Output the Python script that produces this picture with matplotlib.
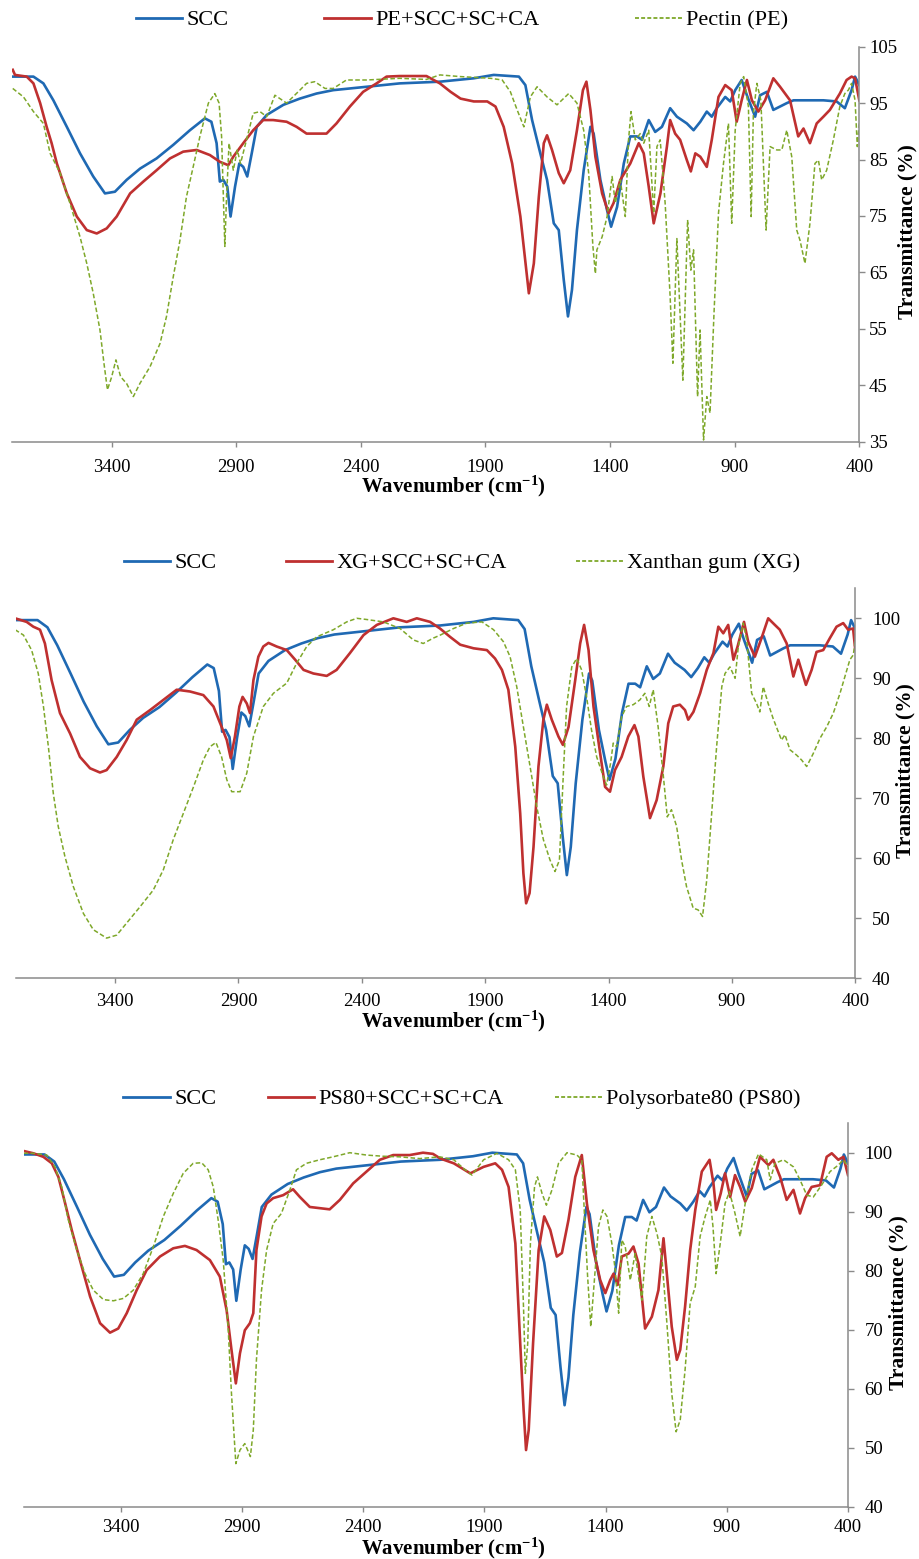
import matplotlib
matplotlib.use("Agg")
import matplotlib.pyplot as plt
from matplotlib.lines import Line2D

plt.rcParams['font.family'] = ['Liberation Serif', 'DejaVu Serif']
plt.rcParams['mathtext.fontset'] = 'custom'
plt.rcParams['mathtext.rm'] = 'Liberation Serif:bold'
plt.rcParams['mathtext.it'] = 'Liberation Serif:bold'
plt.rcParams['mathtext.bf'] = 'Liberation Serif:bold'
plt.rcParams['mathtext.default'] = 'rm'

# ---------------- data (wavenumber cm-1, transmittance %) ----------------
scc_wn = [3801, 3714, 3674, 3634, 3580, 3527, 3474, 3427, 3387, 3340, 3286, 3220, 3153, 3086, 3026,
          3000, 2979, 2966, 2952, 2936, 2923, 2905, 2888, 2872, 2856, 2838, 2818, 2778, 2711, 2645,
          2578, 2511, 2377, 2244, 2083, 1947, 1867, 1766, 1740, 1713, 1680, 1653, 1626, 1606, 1586,
          1569, 1553, 1533, 1506, 1479, 1466, 1439, 1412, 1396, 1372, 1345, 1319, 1292, 1272, 1245,
          1219, 1192, 1159, 1132, 1092, 1065, 1038, 1012, 992, 972, 938, 918, 898, 872, 851, 818,
          798, 771, 745, 718, 691, 664, 611, 544, 491, 458, 431, 417, 400]
scc_t = [99.7, 99.7, 98.5, 95.5, 90.8, 86.1, 82.0, 79.0, 79.3, 81.4, 83.4, 85.2, 87.6, 90.2, 92.3,
         91.7, 87.9, 81.1, 81.4, 80.2, 74.9, 80.2, 84.3, 83.7, 82.0, 86.1, 90.8, 92.9, 94.7, 95.8,
         96.7, 97.3, 97.9, 98.5, 98.8, 99.4, 100.0, 99.7, 98.2, 92.0, 86.1, 81.4, 73.7, 72.5, 63.7,
         57.2, 61.9, 72.5, 83.1, 90.8, 89.6, 81.4, 76.0, 73.1, 76.6, 84.3, 89.1, 89.1, 88.5, 92.0,
         89.9, 90.8, 94.1, 92.6, 91.4, 90.2, 91.7, 93.5, 92.6, 94.1, 96.1, 95.3, 97.3, 99.1, 96.4, 92.6,
         96.4, 97.0, 93.8, 94.4, 95.0, 95.5, 95.5, 95.5, 95.3, 94.1, 97.3, 99.7, 98.2]

pe_mix_wn = [3797, 3788, 3741, 3714, 3687, 3661, 3641, 3620, 3580, 3540, 3500, 3460, 3420, 3380, 3326,
             3273, 3220, 3166, 3113, 3059, 3006, 2966, 2932, 2912, 2872, 2832, 2792, 2752, 2698, 2658,
             2618, 2578, 2538, 2498, 2444, 2391, 2337, 2297, 2244, 2137, 2083, 2040, 2000, 1947, 1893,
             1860, 1827, 1793, 1760, 1726, 1706, 1686, 1666, 1653, 1633, 1606, 1586, 1560, 1533, 1509,
             1495, 1479, 1459, 1432, 1406, 1386, 1359, 1319, 1285, 1265, 1245, 1225, 1198, 1172, 1159,
             1139, 1119, 1092, 1076, 1058, 1038, 1012, 992, 965, 938, 912, 892, 872, 851, 831, 805, 778,
             745, 718, 678, 645, 624, 598, 571, 544, 518, 478, 451, 431, 417, 400]
pe_mix_t = [100.9, 100.0, 99.7, 98.5, 95.0, 90.8, 87.9, 84.3, 79.0, 74.9, 72.5, 71.9, 72.8, 74.9, 79.0,
            81.1, 83.1, 85.2, 86.4, 86.7, 85.8, 84.6, 84.0, 85.5, 87.9, 90.2, 92.0, 92.0, 91.7, 90.8,
            89.6, 89.6, 89.6, 91.4, 94.4, 97.0, 98.5, 99.7, 99.8, 99.8, 98.5, 97.0, 95.8, 95.3, 95.3,
            94.4, 90.8, 84.3, 74.9, 61.3, 66.6, 78.4, 87.9, 89.3, 86.7, 82.6, 80.8, 83.1, 90.2, 97.3,
            98.8, 93.8, 85.5, 79.0, 75.5, 77.3, 81.4, 84.3, 87.9, 86.1, 80.2, 73.7, 79.0, 87.3, 92.0,
            89.6, 88.5, 84.9, 82.9, 86.1, 85.5, 83.7, 88.5, 96.1, 98.2, 97.3, 91.7, 95.5, 99.1, 95.5, 93.5, 95.5,
            99.4, 97.9, 95.5, 89.1, 90.5, 87.9, 91.4, 92.6, 93.8, 96.7, 99.1, 99.7, 99.4, 95.5]

pectin_wn = [3797, 3754, 3714, 3674, 3647, 3607, 3567, 3527, 3500, 3474, 3447, 3431, 3417, 3400, 3383,
             3364, 3340, 3313, 3287, 3246, 3206, 3180, 3153, 3126, 3100, 3073, 3046, 3012, 2986, 2969,
             2959, 2946, 2939, 2929, 2912, 2896, 2883, 2859, 2832, 2805, 2778, 2745, 2698, 2645, 2618,
             2585, 2544, 2511, 2458, 2377, 2244, 2137, 2083, 2000, 1880, 1833, 1800, 1773, 1746, 1720,
             1693, 1653, 1613, 1566, 1533, 1506, 1486, 1469, 1459, 1453, 1432, 1412, 1392, 1379, 1359,
             1339, 1326, 1316, 1299, 1279, 1265, 1245, 1225, 1212, 1199, 1179, 1159, 1148, 1132, 1122,
             1108, 1089, 1076, 1065, 1049, 1039, 1025, 1012, 999, 983, 965, 945, 925, 912, 898, 878, 864,
             845, 834, 825, 811, 795, 774, 758, 731, 711, 691, 671, 651, 638, 618, 598, 578, 564, 551,
             531, 504, 478, 458, 444, 431, 417, 408, 400]
pectin_t = [97.6, 96.1, 93.5, 91.4, 86.1, 82.6, 77.2, 71.3, 66.6, 61.3, 54.8, 48.9, 44.2, 46.5, 49.5,
            46.5, 45.3, 43.0, 45.3, 48.3, 52.4, 57.2, 64.2, 70.7, 78.4, 83.7, 89.1, 95.0, 96.7, 95.0,
            89.1, 69.6, 78.4, 87.9, 83.1, 86.7, 84.3, 88.5, 93.2, 93.5, 92.6, 96.4, 95.0, 97.3, 98.5,
            98.8, 97.6, 97.6, 99.1, 99.1, 99.4, 99.2, 100.0, 99.7, 99.4, 99.1, 97.0, 93.8, 90.8, 96.1,
            97.9, 96.1, 94.7, 96.7, 95.0, 90.2, 82.6, 69.6, 64.8, 69.0, 71.3, 74.9, 82.0, 77.3, 81.4,
            74.9, 88.5, 93.5, 88.5, 89.6, 87.9, 90.2, 75.5, 87.3, 88.5, 77.2, 60.7, 48.9, 71.0, 60.7,
            45.9, 74.3, 65.4, 69.0, 43.0, 54.8, 35.3, 43.0, 40.1, 57.8, 75.5, 84.3, 91.4, 73.7, 90.2, 98.5, 99.7,
            94.4, 74.9, 93.2, 98.5, 95.5, 72.5, 87.3, 86.7, 86.7, 90.2, 85.5, 72.5, 70.7, 66.6, 73.7, 84.3, 84.9, 81.4,
            83.1, 88.5, 94.4, 96.7, 97.3, 98.5, 95.5, 87.3, 91.4]

xg_mix_wn = [3805, 3758, 3731, 3704, 3684, 3657, 3623, 3582, 3542, 3501, 3461, 3434, 3393, 3353, 3312,
             3258, 3204, 3150, 3096, 3042, 3001, 2968, 2947, 2931, 2914, 2896, 2883, 2866, 2853, 2839,
             2819, 2799, 2778, 2745, 2704, 2670, 2636, 2596, 2542, 2502, 2448, 2393, 2339, 2272, 2218,
             2177, 2123, 2083, 2042, 2001, 1947, 1893, 1860, 1832, 1806, 1778, 1758, 1745, 1734, 1720,
             1704, 1684, 1664, 1650, 1630, 1603, 1585, 1562, 1535, 1515, 1499, 1481, 1461, 1434, 1414,
             1394, 1374, 1347, 1320, 1295, 1279, 1259, 1232, 1205, 1178, 1158, 1138, 1111, 1090, 1077,
             1056, 1029, 1002, 975, 955, 935, 915, 894, 877, 851, 834, 807, 780, 753, 726, 706, 678, 651,
             631, 600, 577, 557, 530, 503, 476, 449, 429, 409, 400]
xg_mix_t = [100.0, 99.4, 98.6, 98.1, 95.8, 89.7, 84.2, 80.8, 76.9, 75.0, 74.3, 74.7, 76.9, 79.7, 83.1,
            84.7, 86.4, 88.1, 87.8, 87.2, 85.3, 81.9, 79.7, 76.7, 80.3, 85.3, 86.9, 85.8, 84.2, 89.7,
            93.6, 95.3, 95.9, 95.3, 94.7, 93.1, 91.4, 90.8, 90.4, 91.4, 94.2, 97.2, 98.9, 100.0, 99.4,
            100.0, 99.4, 98.3, 96.9, 95.6, 95.0, 94.7, 93.3, 91.4, 88.1, 78.6, 67.5, 57.5, 52.5, 54.2,
            61.9, 75.3, 83.1, 85.6, 83.1, 80.3, 78.9, 81.9, 89.7, 95.8, 98.9, 94.7, 85.3, 77.5, 71.9,
            71.1, 74.7, 76.9, 80.3, 82.2, 80.3, 73.6, 66.7, 69.7, 75.3, 82.5, 85.3, 85.6, 84.7, 83.1,
            84.4, 87.5, 91.4, 94.2, 98.6, 97.5, 98.9, 93.1, 95.3, 99.4, 96.1, 93.6, 96.7, 100.0, 98.9, 98.1, 95.8, 90.3,
            93.1, 88.9, 91.4, 94.4, 94.7, 96.7, 98.6, 99.2, 98.1, 98.3, 94.7]

xg_wn = [3805, 3771, 3738, 3711, 3690, 3670, 3650, 3630, 3603, 3569, 3528, 3488, 3434, 3393, 3353,
         3299, 3245, 3204, 3164, 3123, 3082, 3042, 3015, 2991, 2968, 2947, 2927, 2893, 2866, 2839,
         2799, 2758, 2704, 2664, 2623, 2583, 2515, 2461, 2420, 2380, 2312, 2245, 2191, 2151, 2110,
         2082, 2028, 1974, 1913, 1866, 1826, 1799, 1772, 1745, 1718, 1691, 1664, 1637, 1617, 1599,
         1583, 1570, 1549, 1529, 1509, 1489, 1469, 1448, 1421, 1408, 1392, 1381, 1367, 1347, 1327,
         1300, 1273, 1253, 1235, 1219, 1199, 1179, 1162, 1145, 1124, 1104, 1084, 1057, 1037, 1019,
         1002, 982, 962, 941, 928, 908, 887, 874, 854, 840, 820, 800, 787, 773, 753, 733, 699, 685,
         665, 638, 618, 597, 570, 543, 516, 489, 462, 442, 422, 408, 400]
xg_t = [98.1, 97.2, 94.7, 90.8, 85.3, 78.6, 70.8, 65.3, 60.3, 55.3, 50.8, 48.1, 46.7, 47.2, 49.2,
        51.9, 54.7, 58.1, 63.1, 67.5, 71.9, 76.4, 78.6, 79.3, 76.9, 73.1, 71.1, 71.1, 74.2, 80.3,
        85.3, 87.5, 89.2, 92.5, 95.3, 96.9, 98.1, 99.4, 100.0, 99.8, 99.4, 98.3, 96.4, 95.8, 96.7,
        97.2, 98.3, 99.2, 99.4, 98.1, 96.1, 93.6, 88.6, 81.9, 75.3, 68.6, 63.1, 59.7, 57.8, 59.7,
        74.2, 85.3, 91.9, 93.3, 91.4, 86.9, 81.4, 76.9, 73.6, 72.2, 75.8, 79.2, 78.6, 83.6, 85.3,
        85.6, 86.4, 87.5, 85.3, 88.1, 81.9, 74.2, 66.9, 68.1, 65.3, 59.7, 55.3, 51.7, 51.4, 50.3,
        56.4, 67.5, 78.6, 88.6, 90.8, 91.9, 90.0, 95.3, 99.2, 96.4, 87.5, 85.8, 84.4, 88.6, 85.8, 83.3, 79.7, 80.6,
        78.1, 77.2, 76.4, 75.3, 77.5, 80.0, 81.9, 84.2, 87.5, 90.3, 93.1, 93.9, 96.4]

ps_mix_wn = [3801, 3760, 3719, 3684, 3657, 3629, 3602, 3568, 3526, 3485, 3444, 3410, 3375, 3334, 3293,
             3238, 3183, 3135, 3087, 3032, 2991, 2963, 2943, 2925, 2908, 2888, 2867, 2853, 2840, 2819,
             2798, 2771, 2730, 2689, 2661, 2620, 2579, 2538, 2496, 2441, 2386, 2331, 2276, 2208, 2153,
             2112, 2081, 2026, 1958, 1903, 1855, 1827, 1800, 1772, 1752, 1738, 1728, 1717, 1699, 1676,
             1653, 1628, 1601, 1580, 1553, 1525, 1498, 1477, 1450, 1422, 1401, 1381, 1367, 1350, 1333,
             1305, 1285, 1264, 1237, 1209, 1182, 1161, 1150, 1127, 1106, 1092, 1072, 1051, 1030, 1003,
             971, 955, 944, 925, 907, 886, 866, 845, 824, 797, 763, 728, 708, 680, 653, 625, 598, 577,
             550, 515, 488, 467, 440, 419, 400]
ps_mix_t = [100.3, 99.9, 99.3, 98.2, 95.9, 91.4, 86.9, 81.8, 75.6, 71.1, 69.5, 70.2, 72.8, 76.7, 80.1,
            82.4, 83.8, 84.2, 83.5, 81.8, 79.0, 73.3, 66.6, 60.9, 66.0, 69.9, 71.1, 72.8, 83.5, 89.2,
            91.4, 92.3, 92.8, 93.8, 92.5, 90.8, 90.6, 90.4, 92.0, 94.8, 96.8, 98.8, 99.6, 99.6, 100.0,
            99.8, 99.0, 98.2, 96.5, 97.6, 98.2, 97.1, 94.2, 84.6, 67.7, 56.4, 49.6, 53.0, 67.7, 83.5,
            89.2, 86.9, 82.4, 83.0, 88.6, 95.9, 99.6, 91.4, 83.5, 78.4, 76.2, 78.4, 79.5, 77.6, 82.4,
            82.9, 84.1, 81.2, 70.2, 72.2, 76.7, 85.5, 80.7, 70.5, 64.9, 66.6, 73.9, 83.5, 90.3, 96.8,
            98.8, 94.8, 90.3, 93.1, 96.5, 92.5, 96.2, 94.2, 91.7, 94.0, 99.3, 97.9, 98.8, 95.9, 92.0, 93.7, 89.7, 92.3,
            94.2, 94.5, 99.3, 99.9, 98.8, 99.3, 96.2]

ps_wn = [3801, 3760, 3705, 3671, 3643, 3616, 3581, 3547, 3513, 3471, 3430, 3389, 3348, 3307, 3265,
         3224, 3183, 3142, 3101, 3066, 3039, 3018, 2998, 2977, 2957, 2943, 2925, 2908, 2888, 2865,
         2853, 2840, 2819, 2798, 2771, 2737, 2702, 2675, 2634, 2579, 2524, 2455, 2386, 2318, 2249,
         2166, 2084, 2026, 1985, 1951, 1903, 1848, 1800, 1772, 1752, 1738, 1731, 1721, 1710, 1693,
         1681, 1662, 1644, 1621, 1594, 1559, 1518, 1498, 1488, 1474, 1461, 1447, 1429, 1411, 1394,
         1374, 1360, 1346, 1333, 1319, 1298, 1278, 1250, 1230, 1209, 1188, 1168, 1147, 1127, 1109,
         1092, 1072, 1051, 1030, 1010, 989, 968, 957, 944, 927, 907, 889, 866, 845, 824, 797, 769,
         735, 721, 701, 666, 625, 598, 570, 543, 509, 474, 440, 419, 400]
ps_t = [99.9, 99.9, 99.6, 97.6, 94.2, 88.6, 83.5, 79.5, 76.7, 75.1, 74.9, 75.3, 76.7, 79.5, 84.1,
        89.2, 93.1, 96.5, 98.2, 98.3, 97.1, 94.2, 88.6, 81.8, 70.5, 59.2, 47.3, 49.6, 50.7, 48.5,
        53.0, 64.9, 76.7, 83.5, 88.0, 89.7, 93.7, 97.1, 98.2, 98.8, 99.3, 100.0, 99.6, 99.4, 99.3,
        99.0, 99.3, 98.8, 97.3, 96.2, 98.8, 99.9, 98.8, 97.1, 90.3, 73.3, 62.6, 67.7, 84.6, 94.2,
        95.9, 93.1, 91.1, 93.7, 98.2, 100.0, 99.6, 98.8, 90.3, 79.0, 70.5, 77.9, 87.5, 90.3, 89.2,
        84.6, 80.1, 72.8, 85.2, 84.1, 78.4, 82.9, 75.0, 85.8, 89.2, 86.3, 82.4, 71.1, 59.2, 52.7,
        54.7, 63.2, 74.5, 77.3, 85.8, 89.2, 92.0, 87.5, 79.5, 84.6, 91.4, 93.4, 89.7, 85.8, 91.4, 97.1, 99.8,
        98.8, 95.4, 98.2, 98.8, 97.6, 95.4, 92.8, 92.5, 94.5, 96.8, 97.9, 98.8, 97.6]

x_ticks = [3400, 2900, 2400, 1900, 1400, 900, 400]

panels = [
    dict(mix=(pe_mix_wn, pe_mix_t), pure=(pectin_wn, pectin_t),
         labels=['SCC', 'PE+SCC+SC+CA', 'Pectin (PE)'],
         box=(12.0, 859.3, 46.7, 441.7), ylim=(35, 105), yticks=list(range(35, 106, 10)),
         legend_y=20, colsp=4.3, ylabel_xy=(907, 232), ypad=3, xpad=9, xlab_base=51),
    dict(mix=(xg_mix_wn, xg_mix_t), pure=(xg_wn, xg_t),
         labels=['SCC', 'XG+SCC+SC+CA', 'Xanthan gum (XG)'],
         box=(16.3, 855.3, 588.3, 978.3), ylim=(40, 105), yticks=list(range(40, 101, 10)),
         legend_y=563, colsp=3.1, ylabel_xy=(905, 771), ypad=8, xpad=7, xlab_base=49),
    dict(mix=(ps_mix_wn, ps_mix_t), pure=(ps_wn, ps_t),
         labels=['SCC', 'PS80+SCC+SC+CA', 'Polysorbate80 (PS80)'],
         box=(23.7, 848.0, 1123.2, 1506.7), ylim=(40, 105), yticks=list(range(40, 101, 10)),
         legend_y=1099, colsp=2.3, ylabel_xy=(898, 1303), ypad=8, xpad=5, xlab_base=47.5),
]

W, H = 919, 1559
C_BLUE = '#1f69b3'
C_RED = '#bf3030'
C_GREEN = '#7ea82a'
C_AX = '#8a8a8a'

fig = plt.figure(figsize=(W / 100, H / 100), dpi=100)

for p in panels:
    l, r, t, b = p['box']
    ax = fig.add_axes([l / W, 1 - b / H, (r - l) / W, (b - t) / H])
    ax.plot(scc_wn, scc_t, color=C_BLUE, lw=1.9, solid_joinstyle='round')
    ax.plot(p['mix'][0], p['mix'][1], color=C_RED, lw=1.9, solid_joinstyle='round')
    ax.plot(p['pure'][0], p['pure'][1], color=C_GREEN, lw=1.1, linestyle=(0, (3, 1.6)))
    ax.set_xlim(3800, 400)
    ax.set_ylim(*p['ylim'])
    ax.set_xticks(x_ticks)
    ax.set_xticklabels([str(v) for v in x_ticks])
    ax.set_yticks(p['yticks'])
    ax.set_yticklabels([str(v) for v in p['yticks']])
    for s in ('top', 'left'):
        ax.spines[s].set_visible(False)
    for s in ('bottom', 'right'):
        ax.spines[s].set_color(C_AX)
        ax.spines[s].set_linewidth(1.1)
    ax.yaxis.tick_right()
    ax.tick_params(axis='y', direction='out', length=4, width=1, color=C_AX,
                   labelsize=13.5, pad=p['ypad'])
    ax.tick_params(axis='x', direction='out', length=3.5, width=1, color=C_AX,
                   labelsize=13.5, pad=p['xpad'])
    ax.set_xlabel('Wavenumber (cm$^{-1}$)', fontsize=15, fontweight='bold')
    ax.xaxis.label.set_va('baseline')
    ax.xaxis.set_label_coords((453 - l) / (r - l), -p['xlab_base'] / (b - t))
    fig.text(p['ylabel_xy'][0] / W, 1 - p['ylabel_xy'][1] / H, 'Transmittance (%)',
             rotation=90, ha='center', va='center', fontsize=15.5, fontweight='bold')
    handles = [Line2D([], [], color=C_BLUE, lw=2.0),
               Line2D([], [], color=C_RED, lw=2.0),
               Line2D([], [], color=C_GREEN, lw=1.3, linestyle=(0, (2.2, 1.2)))]
    fig.legend(handles, p['labels'], loc='center', bbox_to_anchor=(462 / W, 1 - p['legend_y'] / H),
               ncol=3, frameon=False, fontsize=16, handlelength=2.1, handletextpad=0.2,
               columnspacing=p['colsp'], borderpad=0, borderaxespad=0)

fig.savefig('out.png', dpi=100, facecolor='white')
